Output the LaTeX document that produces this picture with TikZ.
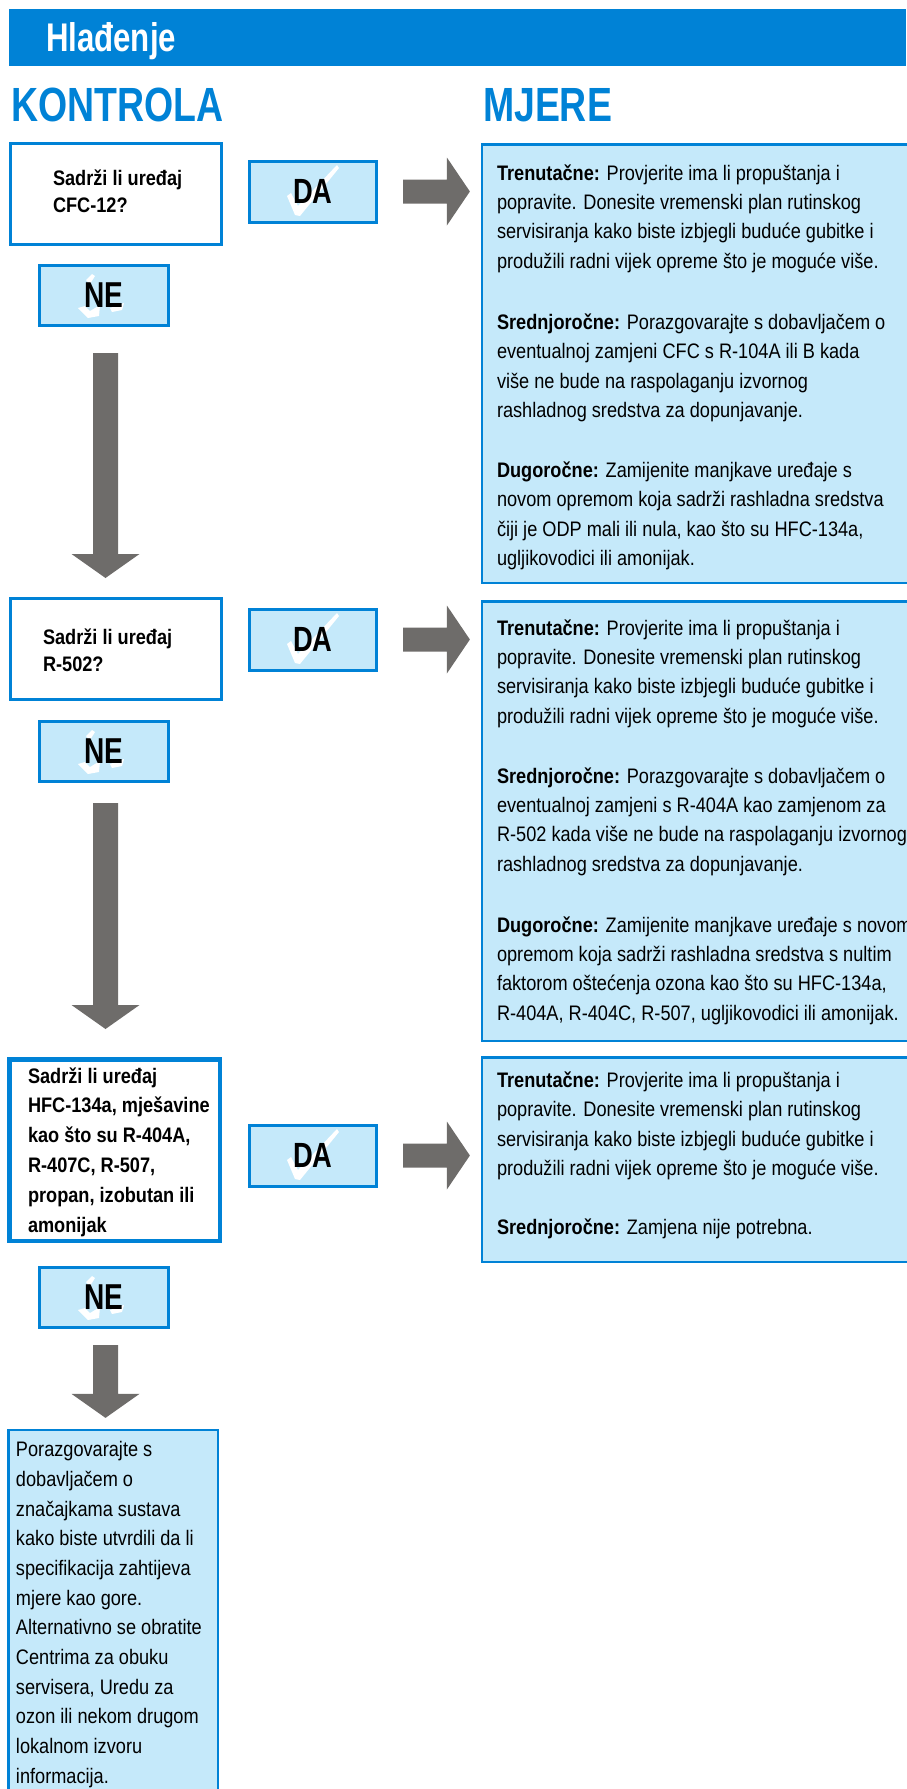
\documentclass[tikz,border=0pt]{standalone}
\usepackage{fontspec}
\setmainfont{Liberation Sans}[FakeStretch=0.865]
\newfontfamily\titlefont{Liberation Sans}[FakeStretch=0.78]
\usetikzlibrary{calc}
\definecolor{hblue}{RGB}{0,130,214}
\definecolor{lblue}{RGB}{197,233,250}
\definecolor{agray}{RGB}{110,108,106}
\newcommand\blockright[2]{\fill[agray] let \p1=(#1), \p2=(#2) in
  (\x1,\y1+12pt) -- (\x2-23pt,\y1+12pt) -- (\x2-23pt,\y1+34pt) -- (\x2,\y1)
  -- (\x2-23pt,\y1-34pt) -- (\x2-23pt,\y1-12pt) -- (\x1,\y1-12pt) -- cycle;}
\newcommand\blockdown[2]{\fill[agray] let \p1=(#1), \p2=(#2) in
  (\x1-12.5pt,\y1) -- (\x1+12.5pt,\y1) -- (\x1+12.5pt,\y2+24pt) -- (\x1+34pt,\y2+24pt)
  -- (\x1,\y2) -- (\x1-34pt,\y2+24pt) -- (\x1-12.5pt,\y2+24pt) -- cycle;}
\begin{document}
\begin{tikzpicture}[x=1pt,y=-1pt,
  every node/.style={inner sep=0pt, outer sep=0pt},
  hdr/.style={fill=hblue, minimum width=897pt, minimum height=57pt},
  qbox/.style={draw=hblue, line width=3pt, fill=white, minimum width=211pt, minimum height=101pt},
  yesno/.style={draw=hblue, line width=3pt, fill=lblue, minimum width=127pt, minimum height=61pt},
  abox/.style={draw=hblue, line width=2.5pt, fill=lblue},
  qtext/.style={anchor=base west, align=left, font=\fontsize{21}{27.5}\selectfont\bfseries},
  atext/.style={anchor=base west, align=left, font=\fontsize{21}{29.3}\selectfont},
  datext/.style={font=\titlefont\bfseries\fontsize{35}{35}\selectfont},
  netext/.style={font=\titlefont\bfseries\fontsize{36}{36}\selectfont},
  coltitle/.style={anchor=base west, text=hblue, font=\titlefont\bfseries\fontsize{48}{48}\selectfont},
  datick/.pic={\fill[white] (-26,4.5) -- (-22,1.5) -- (-15,14.5) -- (24,-26.5) -- (26,-23.5) -- (-13,24.5) -- (-18,23.5) -- cycle;},
  netick/.pic={\fill[white] (-26,12.5) -- (-19,10.5) -- (-14,15.5) -- (-4,9.5) -- (-5,20.5) -- (-16,22.5) -- cycle;
               \fill[white] (-18,-15.5) -- (-12,-21.5) -- (-9,-19.5) -- (-14,-11.5) -- cycle;
               \fill[white] (6,12.5) -- (20,7.5) -- (18,14.5) -- (8,16.5) -- cycle;}
]
\useasboundingbox (0,0) rectangle (906,1789);

% header
\node[hdr] (header) at (457.5,37.5) {};
\node[anchor=base west, text=white, font=\titlefont\bfseries\fontsize{40}{40}\selectfont] (htitle) at (46,51) {Hlađenje};
\node[coltitle] (kontrola) at (11,121) {KONTROLA};
\node[coltitle] (mjere) at (483,121) {MJERE};

% row 1
\node[qbox] (q1) at (116,194) {};
\node[qtext] (q1t) at (53,212.5) {Sadrži li uređaj\\CFC-12?};
\node[yesno] (da1) at (313,191.5) {};
\pic at (da1.center) {datick};
\node[datext] (da1t) at (da1.center) {DA};
\node[yesno, minimum width=129pt, minimum height=60pt] (ne1) at (104,295.5) {};
\pic at (ne1.center) {netick};
\node[netext] (ne1t) at (ne1.center) {NE};
\node[abox, minimum width=447.75pt, minimum height=438.5pt] (ans1) at (706,363.5) {};
\node[atext] (a1p1) at (497,268) {\textbf{Trenutačne:} Provjerite ima li propuštanja i\\popravite. Donesite vremenski plan rutinskog\\servisiranja kako biste izbjegli buduće gubitke i\\produžili radni vijek opreme što je moguće više.};
\node[atext] (a1p2) at (497,417.5) {\textbf{Srednjoročne:} Porazgovarajte s dobavljačem o\\eventualnoj zamjeni CFC s R-104A ili B kada\\više ne bude na raspolaganju izvornog\\rashladnog sredstva za dopunjavanje.};
\node[atext] (a1p3) at (497,565.5) {\textbf{Dugoročne:} Zamijenite manjkave uređaje s\\novom opremom koja sadrži rashladna sredstva\\čiji je ODP mali ili nula, kao što su HFC-134a,\\ugljikovodici ili amonijak.};

% row 2
\node[qbox] (q2) at (116,649) {};
\node[qtext] (q2t) at (43,671.5) {Sadrži li uređaj\\R-502?};
\node[yesno] (da2) at (313,639.5) {};
\pic at (da2.center) {datick};
\node[datext] (da2t) at (da2.center) {DA};
\node[yesno, minimum width=129pt, minimum height=60pt] (ne2) at (104,751.5) {};
\pic at (ne2.center) {netick};
\node[netext] (ne2t) at (ne2.center) {NE};
\node[abox, minimum width=447.75pt, minimum height=439.5pt] (ans2) at (706,821) {};
\node[atext] (a2p1) at (497,723) {\textbf{Trenutačne:} Provjerite ima li propuštanja i\\popravite. Donesite vremenski plan rutinskog\\servisiranja kako biste izbjegli buduće gubitke i\\produžili radni vijek opreme što je moguće više.};
\node[atext] (a2p2) at (497,871) {\textbf{Srednjoročne:} Porazgovarajte s dobavljačem o\\eventualnoj zamjeni s R-404A kao zamjenom za\\R-502 kada više ne bude na raspolaganju izvornog\\rashladnog sredstva za dopunjavanje.};
\node[atext] (a2p3) at (497,1020) {\textbf{Dugoročne:} Zamijenite manjkave uređaje s novom\\opremom koja sadrži rashladna sredstva s nultim\\faktorom oštećenja ozona kao što su HFC-134a,\\R-404A, R-404C, R-507, ugljikovodici ili amonijak.};

% row 3
\node[qbox, line width=4.5pt, minimum width=210.5pt, minimum height=181.5pt] (q3) at (114.5,1150) {};
\node[qtext, font=\fontsize{21}{29.8}\selectfont\bfseries] (q3t) at (28,1232) {Sadrži li uređaj\\HFC-134a, mješavine\\kao što su R-404A,\\R-407C, R-507,\\propan, izobutan ili\\amonijak};
\node[yesno] (da3) at (313,1155.5) {};
\pic at (da3.center) {datick};
\node[datext] (da3t) at (da3.center) {DA};
\node[yesno, minimum width=129pt, minimum height=60pt] (ne3) at (104,1297.5) {};
\pic at (ne3.center) {netick};
\node[netext] (ne3t) at (ne3.center) {NE};
\node[abox, minimum width=447.75pt, minimum height=204.5pt] (ans3) at (706,1159.5) {};
\node[atext] (a3p1) at (497,1175.5) {\textbf{Trenutačne:} Provjerite ima li propuštanja i\\popravite. Donesite vremenski plan rutinskog\\servisiranja kako biste izbjegli buduće gubitke i\\produžili radni vijek opreme što je moguće više.};
\node[atext] (a3p2) at (497,1234) {\textbf{Srednjoročne:} Zamjena nije potrebna.};

% final
\node[abox, minimum width=209.5pt, minimum height=369.75pt] (fin) at (113,1615) {};
\node[atext, font=\fontsize{21}{29.64}\selectfont] (fint) at (16,1783) {Porazgovarajte s\\dobavljačem o\\značajkama sustava\\kako biste utvrdili da li\\specifikacija zahtijeva\\mjere kao gore.\\Alternativno se obratite\\Centrima za obuku\\servisera, Uredu za\\ozon ili nekom drugom\\lokalnom izvoru\\informacija.};

% connectors
\coordinate (r1s) at ($(da1.east)+(26.5pt,0pt)$);
\coordinate (r1e) at ($(da1.east -| ans1.west)+(-12.25pt,0pt)$);
\blockright{r1s}{r1e}
\coordinate (r2s) at ($(da2.east)+(26.5pt,0pt)$);
\coordinate (r2e) at ($(da2.east -| ans2.west)+(-12.25pt,0pt)$);
\blockright{r2s}{r2e}
\coordinate (r3s) at ($(da3.east)+(26.5pt,0pt)$);
\coordinate (r3e) at ($(da3.east -| ans3.west)+(-12.25pt,0pt)$);
\blockright{r3s}{r3e}

\coordinate (d1s) at ($(ne1.south)+(1.5pt,-27.5pt)$);
\coordinate (d1e) at ($(ne1.south |- q2.north)+(1.5pt,20.5pt)$);
\blockdown{d1s}{d1e}
\coordinate (d2s) at ($(ne2.south)+(1.5pt,-21.5pt)$);
\coordinate (d2e) at ($(ne2.south |- q3.north)+(1.5pt,30.25pt)$);
\blockdown{d2s}{d2e}
\coordinate (d3s) at ($(ne3.south)+(1.5pt,-17.5pt)$);
\coordinate (d3e) at ($(ne3.south |- fin.north)+(1.5pt,12.25pt)$);
\blockdown{d3s}{d3e}
\end{tikzpicture}
\end{document}
